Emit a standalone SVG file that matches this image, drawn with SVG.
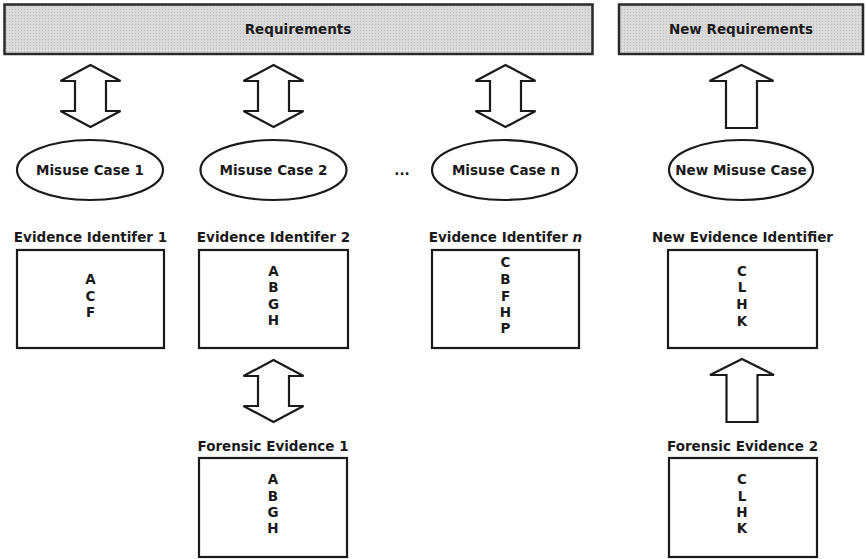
<svg xmlns="http://www.w3.org/2000/svg" width="866" height="559" viewBox="0 0 866 559">
<style>
text{font-family:"DejaVu Sans","Verdana",sans-serif;font-weight:bold;font-size:13.5px;fill:#1a1a1a;text-anchor:middle}
.bar{fill:#d5d5d5;stroke:#2a2a2a;stroke-width:2.5}
.box{fill:#fff;stroke:#1a1a1a;stroke-width:2.2}
.ell{fill:#fff;stroke:#1a1a1a;stroke-width:2.2}
.arr{fill:#fff;stroke:#1a1a1a;stroke-width:2.2;stroke-linejoin:miter}
</style>
<defs>
<pattern id="dots" width="3" height="3" patternUnits="userSpaceOnUse">
<rect width="3" height="3" fill="#dadada"/>
<rect width="1" height="1" fill="#bdbdbd"/>
</pattern>
<path id="dbl" d="M0,0 L30,16 L15.5,16 L15.5,46 L30,46 L0,62 L-30,46 L-15.5,46 L-15.5,16 L-30,16 Z"/>
<path id="up" d="M0,0 L32,16 L15.5,16 L15.5,63 L-15.5,63 L-15.5,16 L-32,16 Z"/>
</defs>
<rect width="866" height="559" fill="#fff"/>

<g id="requirements">
<rect class="bar" x="4.5" y="4.5" width="588" height="49.5" style="fill:url(#dots)"/>
<text x="298" y="34">Requirements</text>
</g>
<g id="new-requirements">
<rect class="bar" x="619" y="4.5" width="244" height="49.5" style="fill:url(#dots)"/>
<text x="741" y="34">New Requirements</text>
</g>

<g id="connectors">
<use href="#dbl" class="arr" x="90.5" y="65"/>
<use href="#dbl" class="arr" x="273.5" y="65"/>
<use href="#dbl" class="arr" x="505.5" y="65"/>
<use href="#up" class="arr" x="741.5" y="65"/>
<use href="#dbl" class="arr" x="273.5" y="360"/>
<use href="#up" class="arr" x="742" y="359"/>
</g>

<g id="misuse-case-1">
<ellipse class="ell" cx="90" cy="170" rx="73" ry="30"/>
<text x="90" y="175">Misuse Case 1</text>
</g>
<g id="misuse-case-2">
<ellipse class="ell" cx="273.5" cy="170" rx="73" ry="30"/>
<text x="273.5" y="175">Misuse Case 2</text>
</g>
<text x="402" y="175">...</text>
<g id="misuse-case-n">
<ellipse class="ell" cx="504.5" cy="170" rx="72.5" ry="30"/>
<text x="506" y="175">Misuse Case n</text>
</g>
<g id="new-misuse-case">
<ellipse class="ell" cx="741" cy="170" rx="72" ry="30"/>
<text x="741" y="175">New Misuse Case</text>
</g>

<g id="evidence-identifier-1">
<text x="90.5" y="242">Evidence Identifer 1</text>
<rect class="box" x="17" y="250" width="147" height="98"/>
<text x="90.5" y="284">A</text>
<text x="90.5" y="301">C</text>
<text x="90.5" y="317">F</text>
</g>
<g id="evidence-identifier-2">
<text x="273.5" y="242">Evidence Identifer 2</text>
<rect class="box" x="199" y="250" width="149" height="98"/>
<text x="273.5" y="276">A</text>
<text x="273.5" y="292">B</text>
<text x="273.5" y="309">G</text>
<text x="273.5" y="325">H</text>
</g>
<g id="evidence-identifier-n">
<text x="505.5" y="242">Evidence Identifer <tspan font-style="italic">n</tspan></text>
<rect class="box" x="432" y="250" width="147" height="98"/>
<text x="505.5" y="267">C</text>
<text x="505.5" y="284">B</text>
<text x="505.5" y="301">F</text>
<text x="505.5" y="317">H</text>
<text x="505.5" y="333">P</text>
</g>
<g id="new-evidence-identifier">
<text x="742.5" y="242">New Evidence Identifier</text>
<rect class="box" x="668" y="250" width="149" height="98"/>
<text x="742" y="276">C</text>
<text x="742" y="292">L</text>
<text x="742" y="309">H</text>
<text x="742" y="326">K</text>
</g>

<g id="forensic-evidence-1">
<text x="273" y="451">Forensic Evidence 1</text>
<rect class="box" x="199" y="458" width="148" height="99"/>
<text x="273" y="484">A</text>
<text x="273" y="501">B</text>
<text x="273" y="517">G</text>
<text x="273" y="533">H</text>
</g>
<g id="forensic-evidence-2">
<text x="742.5" y="451">Forensic Evidence 2</text>
<rect class="box" x="669" y="458" width="148" height="99"/>
<text x="742" y="484">C</text>
<text x="742" y="501">L</text>
<text x="742" y="517">H</text>
<text x="742" y="533">K</text>
</g>
</svg>
